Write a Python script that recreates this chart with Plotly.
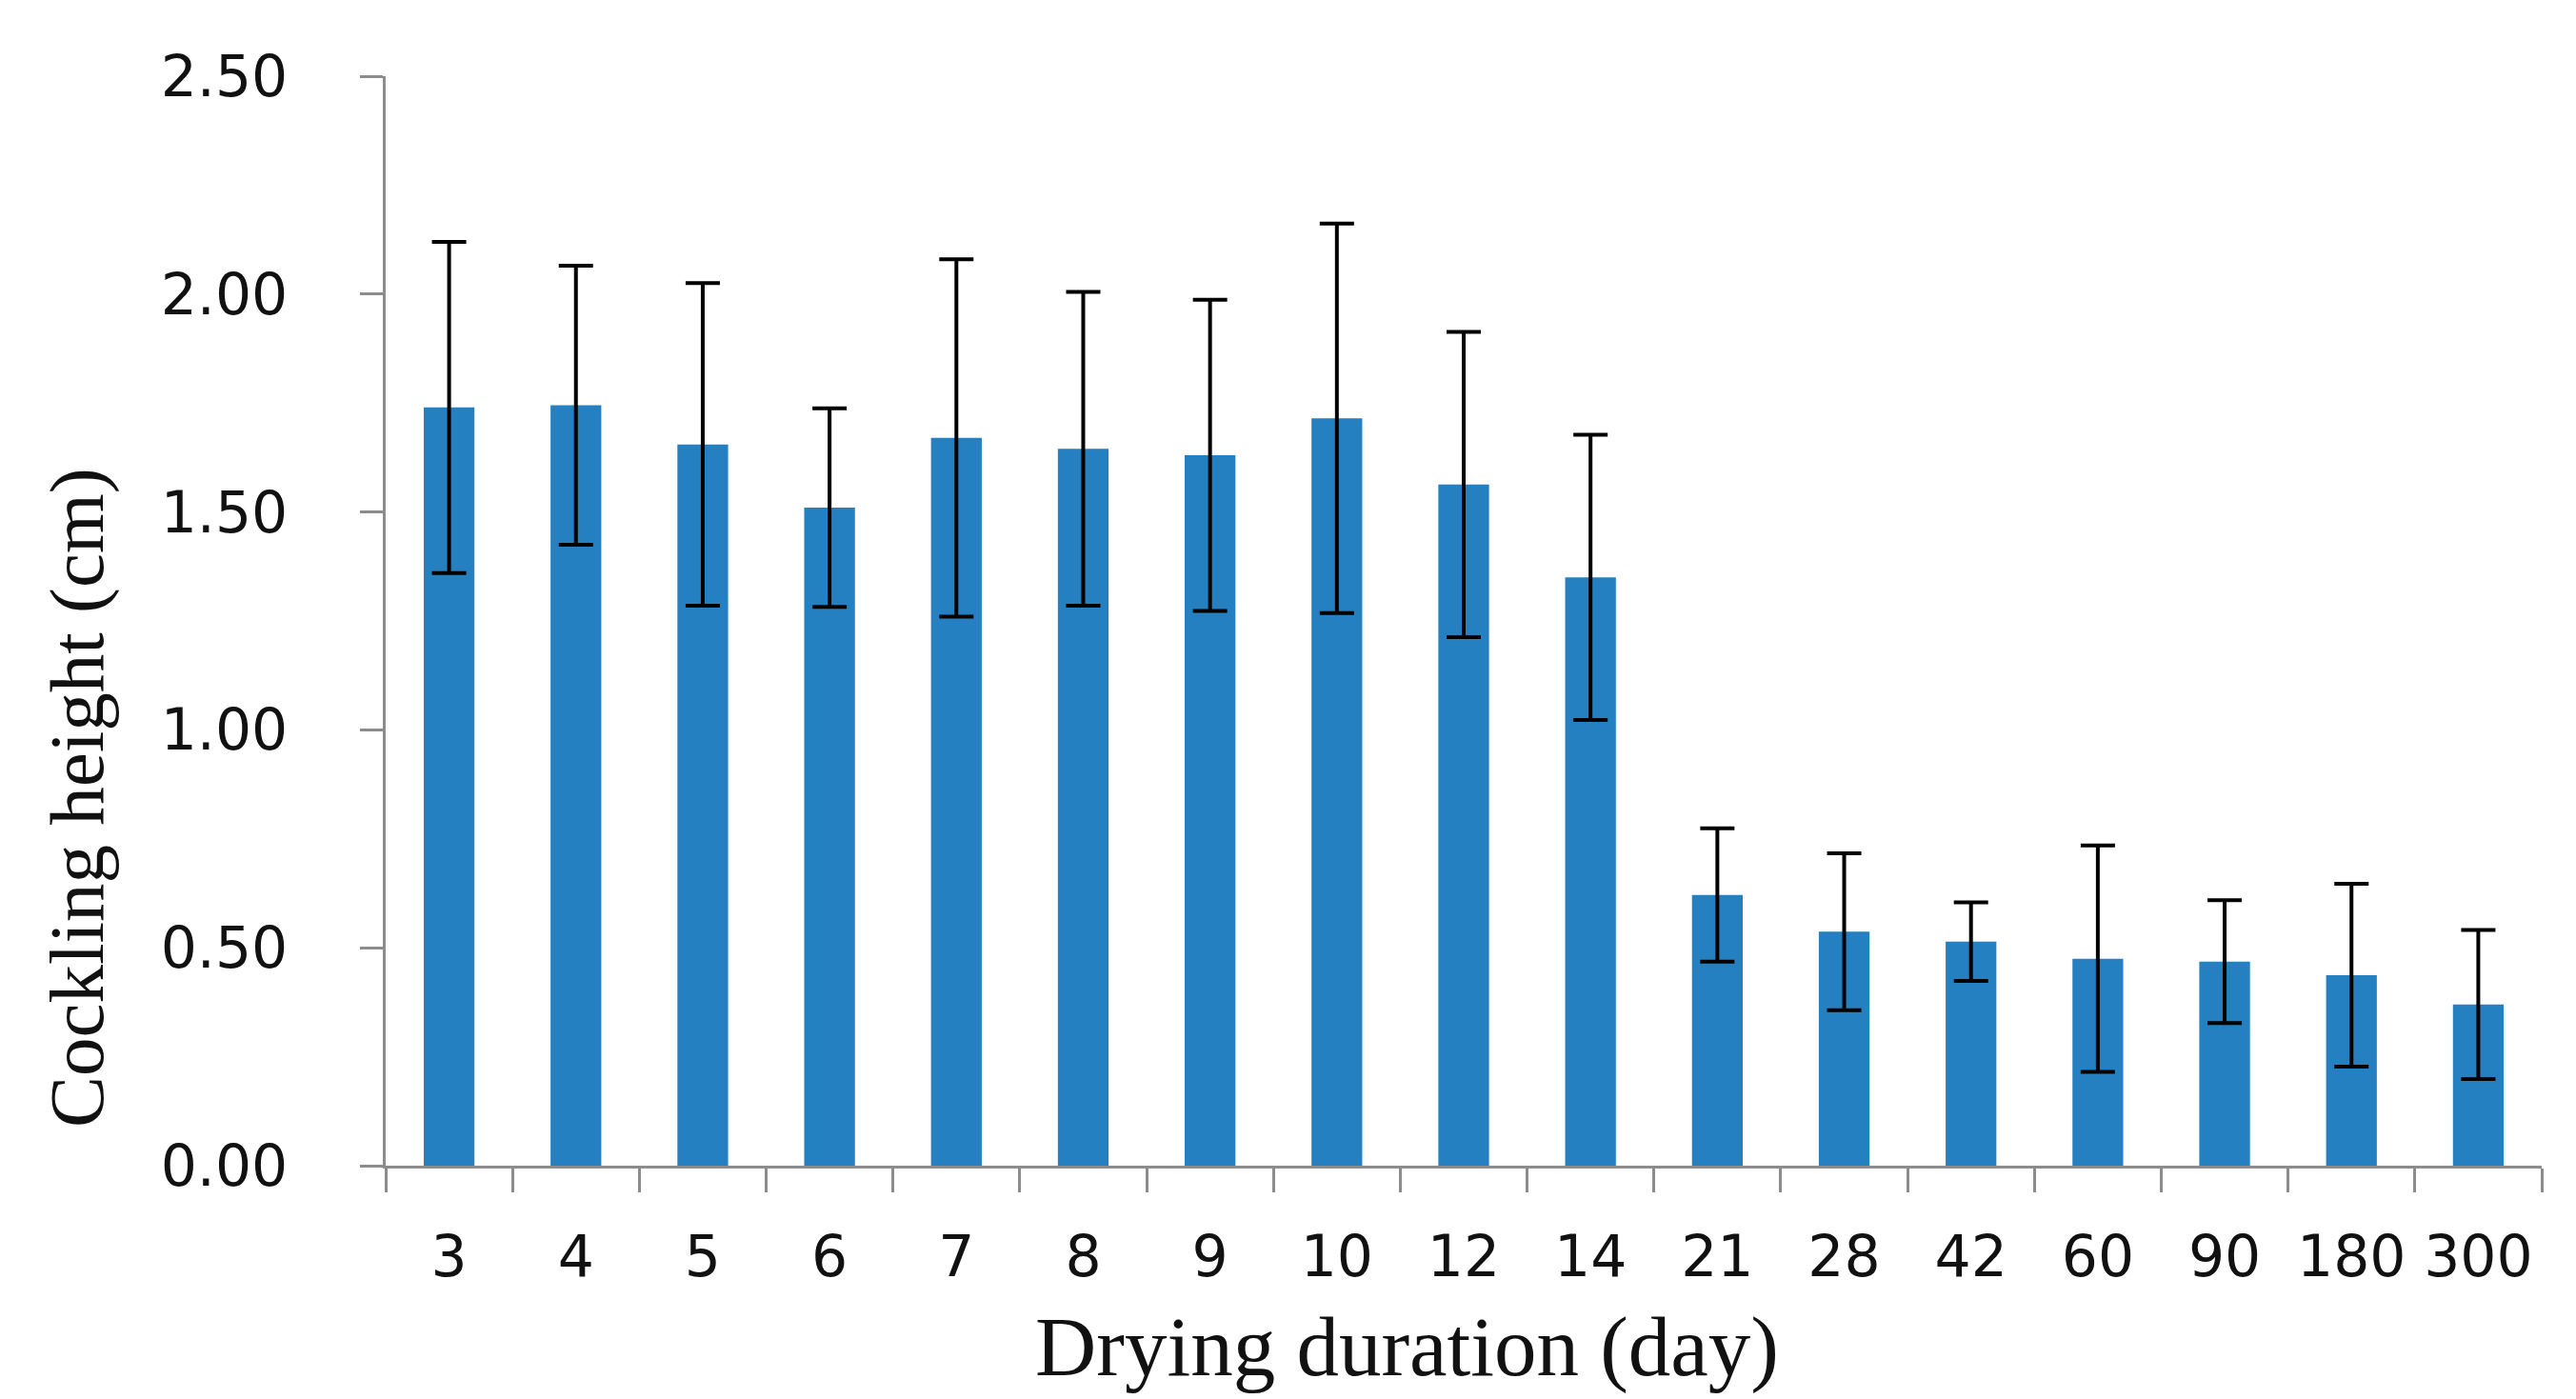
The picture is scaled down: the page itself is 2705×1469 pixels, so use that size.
import plotly.graph_objects as go

categories = ["3", "4", "5", "6", "7", "8", "9", "10", "12", "14",
              "21", "28", "42", "60", "90", "180", "300"]
heights = [1.74, 1.745, 1.655, 1.51, 1.67, 1.645, 1.63, 1.715, 1.563, 1.35,
           0.621, 0.537, 0.514, 0.475, 0.468, 0.437, 0.37]
errors = [0.38, 0.32, 0.37, 0.228, 0.41, 0.36, 0.357, 0.447, 0.35, 0.327,
          0.153, 0.18, 0.09, 0.26, 0.141, 0.21, 0.171]
y_ticks = [0, 0.5, 1.0, 1.5, 2.0, 2.5]
y_tick_text = ["0.00", "0.50", "1.00", "1.50", "2.00", "2.50"]
x_title = "Drying duration (day)"
y_title = "Cockling height (cm)"

AXIS_GRAY = "#8c8c8c"
TEXT = "#111111"

fig = go.Figure(
    go.Bar(
        x=categories,
        y=heights,
        width=0.4,
        marker=dict(color="#2580C1", line=dict(width=0)),
        error_y=dict(type="data", array=errors, visible=True,
                     color="#000000", thickness=4, width=18),
        showlegend=False,
    )
)

fig.update_layout(
    width=2705,
    height=1469,
    paper_bgcolor="white",
    plot_bgcolor="white",
    margin=dict(l=397, r=44, t=72, b=253, autoexpand=False),
    bargap=0.6,
    annotations=[
        dict(text=x_title, xref="paper", yref="paper", x=0.4735, y=0,
             xanchor="center", yanchor="middle", yshift=-190, showarrow=False,
             font=dict(family="Liberation Serif", size=89, color=TEXT)),
        dict(text=y_title, xref="paper", yref="paper", x=0, y=0.3374,
             xanchor="center", yanchor="middle", xshift=-324, showarrow=False,
             textangle=-90,
             font=dict(family="Liberation Serif", size=81, color=TEXT)),
    ],
)

fig.update_xaxes(
    type="category",
    showline=True,
    linecolor=AXIS_GRAY,
    linewidth=2.5,
    ticks="outside",
    tickson="boundaries",
    ticklen=25,
    tickwidth=2.5,
    tickcolor=AXIS_GRAY,
    tickfont=dict(family="DejaVu Sans", size=60, color=TEXT),
    ticklabelstandoff=41,
    showgrid=False,
    zeroline=False,
    automargin=False,
)

fig.update_yaxes(
    range=[0, 2.5],
    tickvals=y_ticks,
    ticktext=y_tick_text,
    showline=True,
    linecolor=AXIS_GRAY,
    linewidth=2.5,
    ticks="outside",
    ticklen=24,
    tickwidth=2.5,
    tickcolor=AXIS_GRAY,
    tickfont=dict(family="DejaVu Sans", size=60, color=TEXT),
    ticklabelstandoff=64,
    showgrid=False,
    zeroline=False,
    automargin=False,
)

fig.write_html("out.html")
